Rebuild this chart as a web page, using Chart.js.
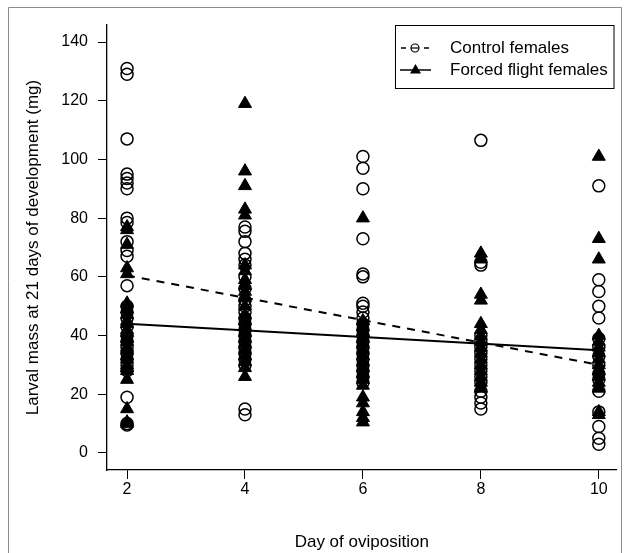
<!DOCTYPE html>
<html>
<head>
<meta charset="utf-8">
<script src="https://cdn.jsdelivr.net/npm/chart.js@4.4.1/dist/chart.umd.min.js"></script>
<style>
  html, body { margin: 0; padding: 0; background: #fff; }
  #wrap { width: 625px; height: 553px; }
</style>
</head>
<body>
<div id="wrap"><canvas id="chart" width="625" height="553"></canvas></div>
<script>
// larval mass (mg), one array per day of oviposition
var days = [2, 4, 6, 8, 10];

var control2 = [131, 129, 107, 95, 93.5, 92, 90, 80, 78.5, 72, 69, 67, 57, 50, 48, 46, 43, 40, 38, 36, 34, 32, 30, 28, 19, 10, 9.5];
var control4 = [77, 75.5, 72, 68, 66, 64, 60, 56, 52, 50, 48, 46, 44, 42, 40, 38, 36, 34, 32, 30, 15, 13];
var control6 = [101, 97, 90, 73, 61, 60, 51, 50, 48, 46, 44, 42, 40, 38, 36, 34, 32, 30, 28, 26, 24];
var control8 = [106.5, 65, 64, 40, 38, 36, 34, 32, 30, 28, 26, 24, 21, 19, 17, 15];
var control10 = [91, 59, 55, 50, 46, 39, 36, 33, 30, 27, 25, 21, 14, 9, 5, 3];

var forced2 = [77, 76, 71, 63, 61, 51, 49, 47, 45, 44, 42, 41, 39, 38, 36, 35, 33, 32, 30, 29, 28, 25, 15, 10.5, 10];
var forced4 = [119, 96, 91, 83, 81, 64, 62, 59, 57, 55, 53, 50, 47, 45, 43, 41, 39, 37, 35, 33, 31, 29, 26];
var forced6 = [80, 45, 43, 41, 39, 37, 35, 33, 31, 29, 27, 25, 23, 19, 17, 14, 12, 10.5];
var forced8 = [68, 66, 54, 52, 44, 42, 40, 38, 36, 34, 32, 30, 28, 26, 24, 22];
var forced10 = [101, 73, 66, 40, 38, 36, 34, 32, 30, 28, 26, 24, 22, 14, 13];

// fitted lines, end points at day 2 and day 10
var fitDays = [2, 10];
var controlFit = [60.5, 30];
var forcedFit = [44, 35];

var xTicks = [2, 4, 6, 8, 10];
var yTicks = [0, 20, 40, 60, 80, 100, 120, 140];

var controlLabel = 'Control females';
var forcedLabel = 'Forced flight females';

function toPoints(dayList, groups) {
    var pts = [];
    for (var i = 0; i < dayList.length; i++) {
        groups[i].forEach(function (v) { pts.push({ x: dayList[i], y: v }); });
    }
    return pts;
}

function fitPoints(xs, ys) {
    return xs.map(function (x, i) { return { x: x, y: ys[i] }; });
}

Chart.defaults.font.family = "'Liberation Sans', Arial, sans-serif";
Chart.defaults.font.size = 16;
Chart.defaults.color = '#000';

var frame = {
    id: 'frame',
    beforeDraw: function (c) {
        var ctx = c.ctx;
        ctx.save();
        ctx.fillStyle = '#fff';
        ctx.fillRect(0, 0, c.width, c.height);
        ctx.strokeStyle = '#8c8c8c';
        ctx.lineWidth = 1;
        ctx.beginPath();
        ctx.moveTo(8.5, 560);
        ctx.lineTo(8.5, 7.5);
        ctx.lineTo(621.5, 7.5);
        ctx.lineTo(621.5, 560);
        ctx.stroke();
        ctx.restore();
    }
};

var boxLegend = {
    id: 'boxLegend',
    afterDraw: function (c) {
        var ctx = c.ctx;
        var a = c.chartArea;
        var x0 = 395.5, y0 = a.top + 0.5, x1 = a.right - 2.5, y1 = 88.5;
        ctx.save();
        ctx.fillStyle = '#fff';
        ctx.fillRect(x0, y0, x1 - x0, y1 - y0);
        ctx.strokeStyle = '#000';
        ctx.lineWidth = 1;
        ctx.strokeRect(x0, y0, x1 - x0, y1 - y0);

        var r1 = 48, r2 = 70;
        // control: dashed line with open circle
        ctx.lineWidth = 1.5;
        ctx.beginPath();
        ctx.moveTo(401, r1); ctx.lineTo(406, r1);
        ctx.moveTo(424, r1); ctx.lineTo(429, r1);
        ctx.stroke();
        ctx.lineWidth = 1.2;
        ctx.beginPath();
        ctx.arc(415, r1, 4, 0, Math.PI * 2);
        ctx.stroke();
        ctx.beginPath();
        ctx.moveTo(411, r1); ctx.lineTo(419, r1);
        ctx.stroke();
        // forced: solid line with filled triangle
        ctx.lineWidth = 1.5;
        ctx.beginPath();
        ctx.moveTo(400, r2); ctx.lineTo(431, r2);
        ctx.stroke();
        ctx.fillStyle = '#000';
        ctx.beginPath();
        ctx.moveTo(415.5, r2 - 6);
        ctx.lineTo(421, r2 + 3.5);
        ctx.lineTo(410, r2 + 3.5);
        ctx.closePath();
        ctx.fill();

        ctx.font = "17px 'Liberation Sans', Arial, sans-serif";
        ctx.textBaseline = 'middle';
        ctx.textAlign = 'left';
        ctx.fillText(controlLabel, 450, r1);
        ctx.fillText(forcedLabel, 450, r2);
        ctx.restore();
    }
};

var chart = new Chart(document.getElementById('chart'), {
    type: 'scatter',
    data: {
        datasets: [
            {
                label: forcedLabel,
                data: toPoints(days, [forced2, forced4, forced6, forced8, forced10]),
                pointStyle: 'triangle',
                pointRadius: 7.5,
                pointHoverRadius: 7.5,
                backgroundColor: '#000',
                borderColor: '#000',
                borderWidth: 1,
                order: 0
            },
            {
                label: controlLabel,
                data: toPoints(days, [control2, control4, control6, control8, control10]),
                pointStyle: 'circle',
                pointRadius: 6,
                pointHoverRadius: 6,
                backgroundColor: 'rgba(0,0,0,0)',
                borderColor: '#000',
                borderWidth: 1.5,
                order: 1
            },
            {
                label: controlLabel + ' fit',
                data: fitPoints(fitDays, controlFit),
                showLine: true,
                borderColor: '#000',
                borderWidth: 2,
                borderDash: [8, 7],
                pointRadius: 0,
                order: 2
            },
            {
                label: forcedLabel + ' fit',
                data: fitPoints(fitDays, forcedFit),
                showLine: true,
                borderColor: '#000',
                borderWidth: 2,
                pointRadius: 0,
                order: 2
            }
        ]
    },
    options: {
        responsive: false,
        animation: false,
        events: [],
        layout: { padding: { top: 25, right: 7, left: 0, bottom: 0 } },
        plugins: {
            legend: { display: false },
            tooltip: { enabled: false }
        },
        scales: {
            x: {
                type: 'linear',
                min: 1.66,
                max: 10.3,
                afterBuildTicks: function (s) { s.ticks = xTicks.map(function (v) { return { value: v }; }); },
                afterFit: function (s) { s.height = 83; },
                grid: { drawOnChartArea: false, drawTicks: true, tickLength: 9, color: '#000' },
                border: { display: true, color: '#000', width: 1.3 },
                ticks: { padding: 1, color: '#000', maxRotation: 0 },
                title: { display: true, text: 'Day of oviposition', color: '#000', font: { size: 17 }, padding: { top: 0, bottom: 0 } }
            },
            y: {
                type: 'linear',
                min: -5.8,
                max: 145.8,
                afterBuildTicks: function (s) { s.ticks = yTicks.map(function (v) { return { value: v }; }); },
                afterFit: function (s) { s.width = 107; },
                grid: { drawOnChartArea: false, drawTicks: true, tickLength: 9, color: '#000' },
                border: { display: true, color: '#000', width: 1.3 },
                ticks: { padding: 10, color: '#000' },
                title: { display: true, text: 'Larval mass at 21 days of development (mg)', color: '#000', font: { size: 17 }, padding: { top: 23, bottom: 0 } }
            }
        }
    },
    plugins: [frame, boxLegend]
});
</script>
</body>
</html>
